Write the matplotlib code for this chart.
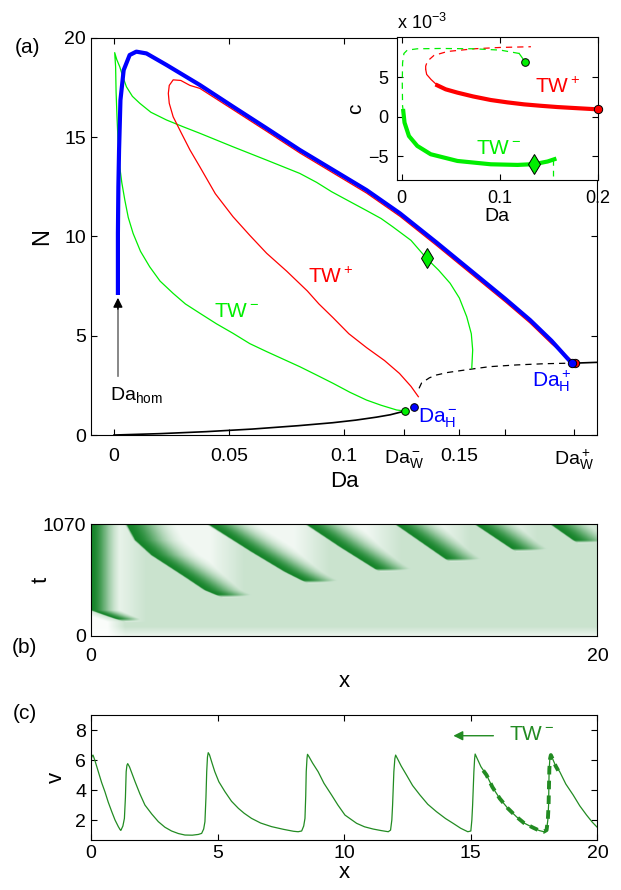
import numpy as np
import matplotlib.pyplot as plt
from matplotlib.colors import LinearSegmentedColormap

plt.rcParams['font.family'] = ['Liberation Sans', 'DejaVu Sans']
plt.rcParams['mathtext.default'] = 'regular'

# ---------------- (a) bifurcation diagram ----------------
blue_da = [0.0017, 0.0017, 0.0019, 0.0022, 0.0028, 0.0042, 0.0068, 0.0097, 0.0141, 0.0228,
           0.0373, 0.0517, 0.0663, 0.0807, 0.0952, 0.1097, 0.1242, 0.1400, 0.1500, 0.1600,
           0.1700, 0.1807, 0.1900, 0.1989]
blue_n = [7.05, 10.15, 12.5, 14.35, 16.86, 18.37, 19.13, 19.30, 19.21, 18.63,
          17.62, 16.53, 15.44, 14.35, 13.34, 12.33, 11.16, 9.70, 8.75, 7.80,
          6.85, 5.79, 4.75, 3.61]

red_da = [0.1322, 0.1290, 0.1240, 0.1175, 0.1097, 0.1020, 0.0952, 0.0890, 0.0840, 0.0750,
          0.0663, 0.0590, 0.0517, 0.0440, 0.0373, 0.0330, 0.0293, 0.0257, 0.0240, 0.0236,
          0.0240, 0.0257, 0.0290, 0.0330, 0.0373, 0.0517, 0.0663, 0.0807, 0.0952, 0.1097,
          0.1242, 0.1400, 0.1500, 0.1600, 0.1700, 0.1807, 0.1900, 0.2003]
red_n = [1.93, 2.45, 3.10, 3.75, 4.40, 5.10, 5.90, 6.60, 7.25, 8.25,
         9.15, 10.05, 10.99, 12.15, 13.50, 14.35, 15.19, 16.02, 16.70, 17.20,
         17.60, 17.88, 17.85, 17.60, 17.45, 16.38, 15.29, 14.20, 13.19, 12.18,
         11.01, 9.55, 8.60, 7.65, 6.70, 5.64, 4.60, 3.61]

green_da = [0.1264, 0.1228, 0.1160, 0.1097, 0.1025, 0.0952, 0.0880, 0.0807, 0.0735, 0.0663,
            0.0590, 0.0517, 0.0445, 0.0373, 0.0310, 0.0257, 0.0200, 0.0155, 0.0115, 0.0083,
            0.0062, 0.0047, 0.0034, 0.0025, 0.0018, 0.0013, 0.0009, 0.0007, 0.0003, 0.0012,
            0.0025, 0.0038, 0.0054, 0.0080, 0.0112, 0.0160, 0.0228, 0.0300, 0.0373, 0.0517,
            0.0663, 0.0807, 0.0880, 0.0945, 0.1020, 0.1097, 0.1160, 0.1210, 0.1290, 0.1358,
            0.1410, 0.1460, 0.1500, 0.1532, 0.1552, 0.1558, 0.1554]
green_n = [1.21, 1.26, 1.50, 1.76, 2.15, 2.60, 3.02, 3.44, 3.82, 4.20,
           4.60, 5.12, 5.60, 6.13, 6.60, 7.13, 7.75, 8.47, 9.25, 10.15,
           10.95, 11.83, 12.70, 13.50, 14.70, 16.02, 17.30, 18.54, 19.25, 18.90,
           18.54, 18.05, 17.53, 17.05, 16.70, 16.25, 15.86, 15.52, 15.19, 14.51,
           13.84, 13.17, 12.72, 12.25, 11.78, 11.30, 10.90, 10.49, 9.80, 8.89,
           8.30, 7.64, 6.90, 5.96, 5.10, 4.28, 3.36]

black_da = [0.0, 0.02, 0.04, 0.06, 0.08, 0.095, 0.105, 0.114, 0.120, 0.1264]
black_n = [0.0, 0.07, 0.17, 0.30, 0.47, 0.62, 0.75, 0.90, 1.02, 1.21]
dash_da = [0.1325, 0.1336, 0.1370, 0.1400, 0.1450, 0.1547, 0.1630, 0.1750, 0.1870, 0.1990]
dash_n = [2.35, 2.62, 2.88, 3.02, 3.15, 3.31, 3.44, 3.53, 3.59, 3.62]
right_da = [0.2003, 0.21]
right_n = [3.62, 3.66]

da_ticks = [0, 0.05, 0.1, 0.126, 0.15, 0.17, 0.2]
da_labels = ['0', '0.05', '0.1', 'Da$_W^-$', '0.15', '', 'Da$_W^+$']

# inset: wave speed c (units of 1e-3)
in_red_thick_da = [0.0365, 0.045, 0.057, 0.073, 0.091, 0.108, 0.125, 0.142, 0.159, 0.180, 0.2003]
in_red_thick_c = [3.95, 3.45, 3.03, 2.55, 2.10, 1.80, 1.55, 1.37, 1.21, 1.06, 0.92]
in_red_thin_da = [0.0365, 0.030, 0.0256, 0.0246]
in_red_thin_c = [3.95, 4.70, 5.33, 5.96]
in_red_dash_da = [0.0246, 0.0246, 0.0263, 0.033, 0.0468, 0.074, 0.101, 0.132]
in_red_dash_c = [5.96, 6.38, 7.00, 7.73, 8.23, 8.57, 8.74, 8.83]
in_green_thin_da = [0.126, 0.120]
in_green_thin_c = [6.93, 7.98]
in_green_dash_da = [0.120, 0.101, 0.074, 0.040, 0.016, 0.0058, 0.0024, 0.001, 0.0007, 0.001, 0.0017]
in_green_dash_c = [7.98, 8.40, 8.57, 8.61, 8.57, 8.40, 7.98, 6.80, 4.29, 1.34, 0.71]
in_green_thick_da = [0.0017, 0.003, 0.0075, 0.016, 0.0297, 0.057, 0.091, 0.1184, 0.1354, 0.149, 0.156]
in_green_thick_c = [0.71, -0.76, -2.45, -3.70, -4.75, -5.60, -6.02, -6.10, -6.00, -5.67, -5.38]
in_green_end_da = [0.155, 0.155]
in_green_end_c = [-5.40, -7.50]

# ---------------- (b) space-time plot: pulse tracks ----------------
# first track: pulse born at x=1.34 that runs into the left boundary and stays pinned there
stripe_t = [[134, 190, 246, 1070], [365, 438, 566, 774, 918, 1070],
            [502, 614, 806, 1070], [614, 854, 1070], [710, 1070], [806, 1070], [886, 1070]]
stripe_x = [[1.34, 0.65, 0.0, 0.0], [5.22, 4.50, 3.71, 2.39, 1.74, 1.40],
            [8.58, 7.66, 6.34, 4.63], [11.41, 9.83, 8.50], [14.17, 12.03], [16.80, 15.17], [19.24, 18.16]]
tail_w = [0.75, 1.15, 1.15, 1.15, 1.15, 1.15, 1.15]

# ---------------- (c) profile v(x) ----------------
v_x = [0.00, 0.04, 0.08, 0.15, 0.29, 0.42, 0.55, 0.68, 0.82, 0.95, 1.08, 1.15, 1.18,
       1.26, 1.32, 1.36, 1.39, 1.42, 1.45,
       1.52, 1.62, 1.74, 1.93, 2.13, 2.40, 2.66, 2.92, 3.18, 3.45, 3.71, 4.00, 4.24, 4.37,
       4.45, 4.50, 4.54, 4.57, 4.60, 4.63,
       4.68, 4.78, 4.89, 5.05, 5.29, 5.55, 5.82, 6.05, 6.34, 6.70, 7.13, 7.60, 8.00, 8.18, 8.32,
       8.40, 8.45, 8.48, 8.50, 8.53, 8.55,
       8.60, 8.75, 8.97, 9.20, 9.50, 9.75, 10.03, 10.49, 10.80, 11.14, 11.45, 11.74, 11.83,
       11.88, 11.91, 11.96, 12.00, 12.03,
       12.10, 12.25, 12.46, 12.70, 12.99, 13.30, 13.64, 14.00, 14.30, 14.60, 14.88, 15.00,
       15.04, 15.07, 15.12, 15.15, 15.17,
       15.25, 15.40, 15.62, 15.85, 16.14, 16.45, 16.80, 17.10, 17.46, 17.70, 17.88, 17.99,
       18.04, 18.07, 18.09, 18.12, 18.16,
       18.25, 18.35, 18.51, 18.75, 19.04, 19.30, 19.57, 19.80, 20.00]
v_val = [6.00, 6.25, 6.33, 6.00, 5.22, 4.50, 3.89, 3.20, 2.56, 2.00, 1.56, 1.36, 1.31,
         1.60, 2.11, 3.50, 5.22, 5.65, 5.76,
         5.55, 5.10, 4.56, 3.75, 3.00, 2.40, 1.89, 1.52, 1.27, 1.10, 1.00, 0.99, 1.04, 1.11,
         1.40, 1.89, 3.50, 5.22, 6.20, 6.49,
         6.35, 5.80, 5.22, 4.55, 3.89, 3.25, 2.78, 2.45, 2.11, 1.80, 1.56, 1.38, 1.25, 1.22, 1.27,
         1.60, 2.11, 3.60, 5.22, 6.10, 6.38,
         6.25, 5.80, 5.22, 4.45, 3.67, 3.00, 2.33, 1.78, 1.55, 1.40, 1.30, 1.22, 1.33,
         2.00, 3.00, 5.22, 6.10, 6.33,
         6.10, 5.60, 5.00, 4.30, 3.67, 3.05, 2.56, 2.10, 1.78, 1.45, 1.22, 1.27,
         2.00, 3.00, 5.22, 6.10, 6.40,
         6.10, 5.55, 5.00, 4.20, 3.44, 2.80, 2.22, 1.80, 1.49, 1.30, 1.22, 1.33,
         2.00, 3.00, 5.22, 6.10, 6.33,
         6.00, 5.60, 5.22, 4.40, 3.67, 2.95, 2.33, 1.85, 1.50]
tw_x = [15.49, 15.62, 15.85, 16.14, 16.45, 16.80, 17.10, 17.46, 17.70, 17.88, 17.99,
        18.04, 18.07, 18.10, 18.13, 18.16, 18.25, 18.35, 18.45]
tw_v = [5.30, 5.00, 4.20, 3.44, 2.80, 2.22, 1.80, 1.49, 1.30, 1.22, 1.33,
        2.00, 3.00, 5.40, 6.10, 6.33, 6.00, 5.60, 5.30]

dkgreen = '#228b22'
tick_kw = dict(direction='in', top=True, right=True, length=4, width=0.8)

fig = plt.figure(figsize=(6.21, 8.90), dpi=100)

# ---------- panel (a) ----------
ax = fig.add_axes([0.1465, 0.5112, 0.8156, 0.4464])
ax.plot(black_da, black_n, color='k', lw=1.2)
ax.plot(right_da, right_n, color='k', lw=1.2)
ax.plot(dash_da, dash_n, color='k', lw=0.9, dashes=(5, 4))
ax.plot(green_da, green_n, color='#00ee00', lw=0.9)
ax.plot(red_da, red_n, color='red', lw=0.9)
ax.plot(blue_da, blue_n, color='blue', lw=3, solid_capstyle='butt')
ax.plot([0.1264], [1.21], 'o', ms=5.5, mfc='#00ee00', mec='k', mew=0.7)
ax.plot([0.1302], [1.41], 'o', ms=5.5, mfc='blue', mec='k', mew=0.7)
ax.plot([0.1358], [8.89], 'd', ms=10, mfc='#00ee00', mec='k', mew=0.7)
ax.plot([0.1989], [3.61], 'o', ms=6, mfc='blue', mec='k', mew=0.7, zorder=5)
ax.plot([0.2003], [3.61], 'o', ms=6, mfc='red', mec='k', mew=0.7, zorder=4)

ax.plot([0.0017, 0.0017], [2.95, 6.6], color='0.45', lw=1.2)
ax.annotate('', xy=(0.0017, 7.05), xytext=(0.0017, 6.2),
            arrowprops=dict(arrowstyle='-|>', color='k', lw=1.0, mutation_scale=14))
ax.text(-0.0018, 1.76, 'Da$_{hom}$', fontsize=14, va='baseline', ha='left')
ax.text(0.0942, 7.95, 'TW$^+$', color='red', fontsize=15, ha='center', va='center')
ax.text(0.0534, 6.24, 'TW$^-$', color='#00ee00', fontsize=15, ha='center', va='center')
ax.text(0.132, 0.65, 'Da$_H^-$', color='blue', fontsize=15, va='baseline', ha='left')
ax.text(0.1815, 2.42, 'Da$_H^+$', color='blue', fontsize=15, va='baseline', ha='left')

ax.set_xlim(-0.01, 0.21)
ax.set_ylim(0, 20)
ax.set_xticks(da_ticks, da_labels)
ax.set_yticks([0, 5, 10, 15, 20])
ax.tick_params(labelsize=14, **tick_kw)
ax.tick_params(axis='x', pad=9)
ax.set_xlabel('Da', fontsize=16)
ax.xaxis.set_label_coords(0.5, -0.09)
ax.set_ylabel('N', fontsize=17, labelpad=8)
fig.text(0.044, 0.947, '(a)', fontsize=15, ha='center', va='center')

# ---------- inset ----------
axi = fig.add_axes([0.6388, 0.7978, 0.3234, 0.1601])
axi.plot(in_red_dash_da, in_red_dash_c, color='red', lw=0.9, dashes=(5, 4))
axi.plot(in_red_thin_da, in_red_thin_c, color='red', lw=0.9)
axi.plot(in_red_thick_da, in_red_thick_c, color='red', lw=3)
axi.plot(in_green_dash_da, in_green_dash_c, color='#00ee00', lw=0.9, dashes=(5, 4))
axi.plot(in_green_thin_da, in_green_thin_c, color='#00ee00', lw=0.9)
axi.plot(in_green_thick_da, in_green_thick_c, color='#00ee00', lw=3)
axi.plot(in_green_end_da, in_green_end_c, color='#00ee00', lw=0.9, dashes=(5, 4))
axi.plot([0.126], [6.93], 'o', ms=5.5, mfc='#00ee00', mec='k', mew=0.7)
axi.plot([0.1354], [-6.0], 'd', ms=10, mfc='#00ee00', mec='k', mew=0.7)
axi.plot([0.2003], [0.92], 'o', ms=6, mfc='red', mec='k', mew=0.7, clip_on=False, zorder=5)
axi.text(0.1597, 3.7, 'TW$^+$', color='red', fontsize=15, ha='center', va='center')
axi.text(0.0993, -4.0, 'TW$^-$', color='#00ee00', fontsize=15, ha='center', va='center')
axi.set_xlim(-0.005, 0.2)
axi.set_ylim(-8, 10)
axi.set_xticks([0, 0.1, 0.2], ['0', '0.1', '0.2'])
axi.set_yticks([-5, 0, 5])
axi.tick_params(labelsize=13, **tick_kw)
axi.tick_params(axis='x', pad=7)
axi.tick_params(axis='y', pad=6)
axi.set_xlabel('Da', fontsize=14, labelpad=1)
axi.set_ylabel('c', fontsize=15, labelpad=2)
axi.text(0.0, 1.03, 'x 10$^{-3}$', transform=axi.transAxes, fontsize=13, ha='left', va='bottom')

# ---------- panel (b) ----------
axb = fig.add_axes([0.1465, 0.2857, 0.8156, 0.1252])
xg = np.linspace(0, 20, 600)
tg = np.linspace(0, 1070, 400)
X, T = np.meshgrid(xg, tg)
excite = np.zeros_like(X)
refr = np.zeros_like(X)
for ts, xs, w in zip(stripe_t, stripe_x, tail_w):
    pos = np.interp(T, ts, xs)
    s = X - pos
    alive = T >= ts[0]
    amp = np.clip((T - ts[0]) / 30.0, 0, 1)
    prof = np.where(s >= 0, np.exp(-(s / w) ** 2), np.exp(s / 0.05))
    excite = np.maximum(excite, np.where(alive, amp * prof, 0))
    # wake left behind the pulse, fading out towards its birth point
    taper = np.clip((xs[0] - X) / 1.4 + 0.6, 0, 1)
    wake = np.where(alive & (s > 0), taper, 0)
    refr = np.maximum(refr, wake)
base = 0.23 - 0.17 * refr
base = base * (0.35 + 0.65 * np.clip(T / 90.0, 0, 1))
posA = np.interp(T, stripe_t[0], stripe_x[0])
ahead = np.clip((posA - X) / 0.7, 0, 1) * (T < stripe_t[0][2])
base = base * (1 - 0.9 * ahead)
field = np.maximum(base, excite)
cmap = LinearSegmentedColormap.from_list('wg', ['#ffffff', '#16842a'])
axb.imshow(field, extent=[0, 20, 0, 1070], origin='lower', aspect='auto',
           cmap=cmap, vmin=0, vmax=1, interpolation='bilinear')
axb.set_xlim(0, 20)
axb.set_ylim(0, 1070)
axb.set_xticks([0, 20])
axb.set_yticks([0, 1070])
axb.tick_params(labelsize=14, direction='in', length=0)
axb.tick_params(axis='x', pad=9)
axb.set_xlabel('x', fontsize=16, labelpad=4)
axb.set_ylabel('t', fontsize=16)
axb.yaxis.set_label_coords(-0.078, 0.5)
fig.text(0.040, 0.272, '(b)', fontsize=15, ha='center', va='center')

# ---------- panel (c) ----------
axc = fig.add_axes([0.1465, 0.0562, 0.8156, 0.1404])
axc.plot(v_x, v_val, color=dkgreen, lw=0.9)
axc.plot(tw_x, tw_v, color=dkgreen, lw=2.8, dashes=(2.2, 1.6))
axc.annotate('', xy=(14.2, 7.62), xytext=(16.0, 7.62),
             arrowprops=dict(arrowstyle='-|>', color=dkgreen, lw=1.0, mutation_scale=14))
axc.text(17.4, 7.67, 'TW$^-$', color=dkgreen, fontsize=15, ha='center', va='center')
axc.set_xlim(0, 20)
axc.set_ylim(0.67, 9)
axc.set_xticks([0, 5, 10, 15, 20])
axc.set_yticks([2, 4, 6, 8])
axc.tick_params(labelsize=14, **tick_kw)
axc.set_xlabel('x', fontsize=16, labelpad=0)
axc.set_ylabel('v', fontsize=16, labelpad=6)
fig.text(0.040, 0.198, '(c)', fontsize=15, ha='center', va='center')

fig.savefig('out.png', dpi=100)
